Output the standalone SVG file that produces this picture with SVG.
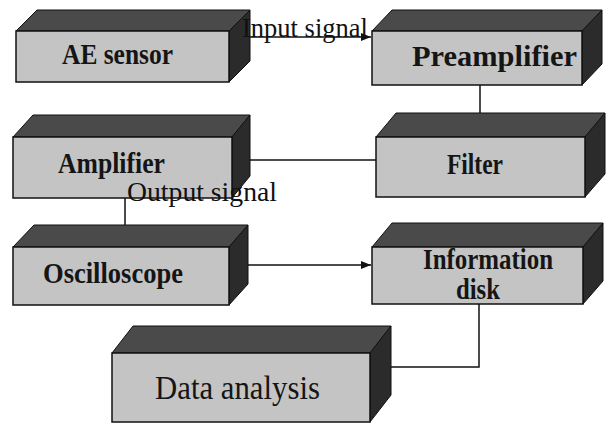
<svg xmlns="http://www.w3.org/2000/svg" width="606" height="425" viewBox="0 0 606 425">
<defs>
<style>
.front{fill:#c4c4c4;stroke:#111;stroke-width:1.5}
.top{fill:#4a4a4a;stroke:#111;stroke-width:1}
.side{fill:#2b2b2b;stroke:#111;stroke-width:1}
.lbl{font-family:"Liberation Serif","Times New Roman",serif;font-weight:bold;font-size:30px;fill:#151515}
.lbl2{font-family:"Liberation Serif","Times New Roman",serif;font-weight:normal;font-size:33px;fill:#151515}
.edge{fill:none;stroke:#111;stroke-width:1.5}
.elbl{font-family:"Liberation Serif","Times New Roman",serif;font-size:28px;fill:#111}
</style>
<marker id="arr" viewBox="0 0 10 8" refX="10" refY="4" markerWidth="10" markerHeight="8" markerUnits="userSpaceOnUse" orient="auto">
<path d="M0,0 L10,4 L0,8 z" fill="#111"/>
</marker>
</defs>
<rect width="606" height="425" fill="#fff"/>

<g id="connectors">
<line class="edge" x1="250" y1="37" x2="371" y2="37" marker-end="url(#arr)"/>
<line class="edge" x1="480" y1="84" x2="480" y2="113"/>
<line class="edge" x1="250" y1="160" x2="376" y2="160"/>
<line class="edge" x1="125" y1="198" x2="125" y2="225"/>
<line class="edge" x1="248" y1="265" x2="371" y2="265" marker-end="url(#arr)"/>
<polyline class="edge" points="479,304 479,367 391,367"/>
</g>

<g id="ae-sensor">
<polygon class="top" points="16,31 37,10 250,10 229,31"/>
<polygon class="side" points="229,31 250,10 250,61 229,82"/>
<rect class="front" x="16" y="31" width="213" height="51"/>
<text class="lbl" x="62" y="64" textLength="111" lengthAdjust="spacingAndGlyphs">AE sensor</text>
</g>

<g id="preamplifier">
<polygon class="top" points="372,31 392,10 602,10 582,31"/>
<polygon class="side" points="582,31 602,10 602,64 582,85"/>
<rect class="front" x="372" y="31" width="210" height="54"/>
<text class="lbl" x="412" y="66" textLength="165" lengthAdjust="spacingAndGlyphs">Preamplifier</text>
</g>

<g id="amplifier">
<polygon class="top" points="13,137 33,115 250,115 232,137"/>
<polygon class="side" points="232,137 250,115 250,176 232,198"/>
<rect class="front" x="13" y="137" width="219" height="61"/>
<text class="lbl" x="58" y="173" textLength="107" lengthAdjust="spacingAndGlyphs">Amplifier</text>
</g>

<g id="filter">
<polygon class="top" points="376,137 396,113 605,113 585,137"/>
<polygon class="side" points="585,137 605,113 605,174 585,197"/>
<rect class="front" x="376" y="137" width="209" height="60"/>
<text class="lbl" x="447" y="174" textLength="56" lengthAdjust="spacingAndGlyphs">Filter</text>
</g>

<g id="oscilloscope">
<polygon class="top" points="13,247 34,225 248,225 229,247"/>
<polygon class="side" points="229,247 248,225 248,284 229,305"/>
<rect class="front" x="13" y="247" width="216" height="58"/>
<text class="lbl" x="43" y="283" textLength="140" lengthAdjust="spacingAndGlyphs">Oscilloscope</text>
</g>

<g id="information-disk">
<polygon class="top" points="372,247 392,223 603,223 583,247"/>
<polygon class="side" points="583,247 603,223 603,281 583,304"/>
<rect class="front" x="372" y="247" width="211" height="57"/>
<text class="lbl" x="423" y="269" textLength="130" lengthAdjust="spacingAndGlyphs">Information</text>
<text class="lbl" x="456" y="299" textLength="44" lengthAdjust="spacingAndGlyphs">disk</text>
</g>

<g id="data-analysis">
<polygon class="top" points="112,353 133,326 391,326 370,353"/>
<polygon class="side" points="370,353 391,326 391,395 370,422"/>
<rect class="front" x="112" y="353" width="258" height="69"/>
<text class="lbl2" x="155" y="399" textLength="165" lengthAdjust="spacingAndGlyphs">Data analysis</text>
</g>

<g id="edge-labels">
<text class="elbl" x="242" y="37" textLength="126" lengthAdjust="spacingAndGlyphs">Input signal</text>
<text class="elbl" x="127" y="201" textLength="150" lengthAdjust="spacingAndGlyphs">Output signal</text>
</g>
</svg>
